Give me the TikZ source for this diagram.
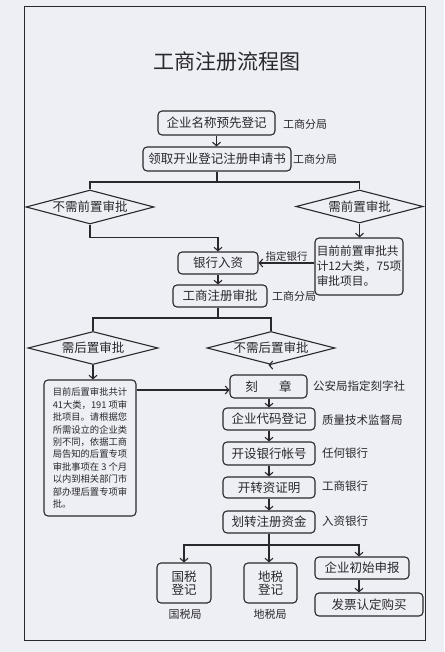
\documentclass[tikz,border=0pt]{standalone}
\usepackage{fontspec}
\setmainfont{Noto Sans CJK SC}
\usetikzlibrary{shapes.geometric,arrows.meta}
\definecolor{paper}{RGB}{238,239,244}
\definecolor{ink}{RGB}{40,40,45}
\tikzset{
  box/.style={draw=ink, text=ink, rounded corners=4pt, line width=1.1pt, inner sep=0pt,
    font=\fontsize{12.5}{15}\selectfont, align=center},
  dia/.style={draw=ink, text=ink, shape=diamond, aspect=3.8, line width=1.1pt, inner sep=0pt,
    font=\fontsize{12.5}{15}\selectfont},
  lab/.style={text=ink, inner sep=0pt, font=\fontsize{11}{13}\selectfont},
  conn/.style={draw=ink, line width=1.1pt},
  arr/.style={conn, -{Straight Barb[length=3.5pt,width=8pt]}}
}
\begin{document}
\begin{tikzpicture}[x=1pt,y=-1pt]
\fill[paper] (0,0) rectangle (444,652);
\useasboundingbox (0,0) rectangle (444,652);
\draw[ink, line width=1pt] (24,7) rectangle (425,640);
\node[text=ink, font=\fontsize{21}{24}\selectfont] (title) at (227,62) {工商注册流程图};

\node[box, minimum width=117pt, minimum height=24pt] (b1) at (216.5,123) {企业名称预先登记};
\node[lab, anchor=west] (l1) at (283,124) {工商分局};
\node[box, minimum width=148pt, minimum height=24pt] (b2) at (217,159) {领取开业登记注册申请书};
\node[lab, anchor=west] (l2) at (293,159) {工商分局};
\draw[arr] (b1.south) -- (b1.south|-b2.north);

\coordinate (j1) at (217,182);
\node[dia, minimum width=128pt, minimum height=34pt] (d1) at (90,207) {不需前置审批};
\node[dia, minimum width=127pt, minimum height=33pt] (d2) at (359.5,206.5) {需前置审批};
\draw[conn] (b2.south) -- (j1);
\draw[conn] (d1.north) |- (j1) -| (d2.north);

\node[box, minimum width=88pt, minimum height=57pt, align=left, font=\fontsize{11.7}{15}\selectfont] (n1) at (359,266.5) {目前前置审批共\\计12大类，75项\\审批项目。};
\draw[arr] (d2.south) -- (d2.south|-n1.north);

\node[box, minimum width=80pt, minimum height=22pt] (b3) at (218,263) {银行入资};
\draw[arr] (n1.west|-b3.east) -- node[lab, above=1pt, font=\fontsize{10.5}{12}\selectfont] (l3) {指定银行} (b3.east);
\draw[arr] (d1.south) -- ++(0,13) -| (b3.north);

\node[box, minimum width=94pt, minimum height=22pt] (b4) at (220,296) {工商注册审批};
\node[lab, anchor=west] (l4) at (272,296) {工商分局};
\draw[arr] (b3.south) -- (b3.south|-b4.north);

\coordinate (j2) at (218,318);
\node[dia, minimum width=130pt, minimum height=33pt] (d3) at (93,348) {需后置审批};
\node[dia, minimum width=128pt, minimum height=33pt] (d4) at (271,348) {不需后置审批};
\draw[conn] (b3.south|-b4.south) -- (j2);
\draw[conn] (d3.north) |- (j2) -| (d4.north);

\node[box, minimum width=92pt, minimum height=136pt, align=left, font=\fontsize{9.3}{12.4}\selectfont] (n2) at (90,448) {目前后置审批共计\\41大类，191 项审\\批项目。请根据您\\所需设立的企业类\\别不同，依据工商\\局告知的后置专项\\审批事项在 3 个月\\以内到相关部门市\\部办理后置专项审\\批。};
\draw[arr] (d3.south) -- (d3.south|-n2.north);

\node[box, minimum width=77pt, minimum height=23pt] (b5) at (268.5,386.5) {刻\hspace{1.7em}章};
\node[lab, anchor=west, font=\fontsize{11.5}{13}\selectfont] (l5) at (313,386) {公安局指定刻字社};
\draw[arr] (d4.south) -- (d4.south-|b5.north);
\draw[arr] (n2.east|-0,390) -- (b5.west|-0,390);

\node[box, minimum width=92pt, minimum height=22pt] (b6) at (269,419) {企业代码登记};
\node[lab, anchor=west, font=\fontsize{11.5}{13}\selectfont] (l6) at (322,420) {质量技术监督局};
\node[box, minimum width=92pt, minimum height=23pt] (b7) at (269,453.5) {开设银行帐号};
\node[lab, anchor=west, font=\fontsize{11.5}{13}\selectfont] (l7) at (322,453) {任何银行};
\node[box, minimum width=92pt, minimum height=21pt] (b8) at (269,487.5) {开转资证明};
\node[lab, anchor=west, font=\fontsize{11.5}{13}\selectfont] (l8) at (322,486) {工商银行};
\node[box, minimum width=92pt, minimum height=22pt] (b9) at (269,522) {划转注册资金};
\node[lab, anchor=west, font=\fontsize{11.5}{13}\selectfont] (l9) at (322,521) {入资银行};
\draw[arr] (b5.south-|b6.north) -- (b6.north);
\draw[arr] (b6.south) -- (b7.north);
\draw[arr] (b7.south) -- (b8.north);
\draw[arr] (b8.south) -- (b9.north);

\coordinate (j3) at (269,545);
\node[box, minimum width=54pt, minimum height=40pt, font=\fontsize{12.5}{13.5}\selectfont] (b10) at (184,583) {国税\\登记};
\node[lab] (l10) at (185,614) {国税局};
\node[box, minimum width=53pt, minimum height=40pt, font=\fontsize{12.5}{13.5}\selectfont] (b11) at (270.5,583) {地税\\登记};
\node[lab] (l11) at (270,614) {地税局};
\node[box, minimum width=94pt, minimum height=22pt] (b12) at (362,568) {企业初始申报};
\node[box, minimum width=108pt, minimum height=23pt] (b13) at (369,604.5) {发票认定购买};
\coordinate (j4) at (359,545);
\draw[conn] (b9.south) -- (j3);
\draw[arr] (j3) -| (b10.north);
\draw[arr] (j3) -| (j4) -- (j4|-b12.north);
\draw[arr] (j3) -- (j3|-b11.north);
\draw[arr] (j4|-b12.south) -- (j4|-b13.north);
\end{tikzpicture}
\end{document}
